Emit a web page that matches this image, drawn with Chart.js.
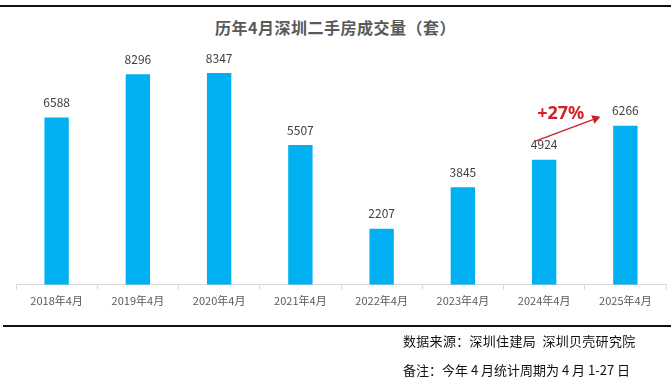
<!DOCTYPE html>
<html>
<head>
<meta charset="utf-8">
<script src="https://cdn.jsdelivr.net/npm/chart.js@4/dist/chart.umd.min.js"></script>
<style>
html,body{margin:0;padding:0;background:#fff;}
#wrap{position:relative;width:671px;height:380px;overflow:hidden;font-family:"Noto Sans CJK SC","Noto Sans",sans-serif;}
canvas{position:absolute;left:0;top:0;}
.line{position:absolute;left:0;width:671px;height:2px;background:#111;}
.title{position:absolute;left:0;width:671px;top:17px;text-align:center;font-size:16px;letter-spacing:0.5px;font-weight:bold;color:#595959;line-height:20px;}
.note{position:absolute;left:403px;font-size:13px;color:#111;line-height:18px;white-space:pre;}
</style>
</head>
<body>
<div id="wrap">
  <div class="line" style="top:5px;"></div>
  <div class="title" id="title"></div>
  <canvas id="c" width="671" height="380"></canvas>
  <div class="line" style="top:325px;left:3px;"></div>
  <div class="note" style="top:332px;letter-spacing:0.3px;">数据来源：深圳住建局  深圳贝壳研究院</div>
  <div class="note" style="top:361px;">备注：今年 4 月统计周期为 4 月 1-27 日</div>
</div>
<script>
const titleText = "历年4月深圳二手房成交量（套）";
const categories = ["2018年4月","2019年4月","2020年4月","2021年4月","2022年4月","2023年4月","2024年4月","2025年4月"];
const volumes = [6588, 8296, 8347, 5507, 2207, 3845, 4924, 6266];
const growthLabel = "+27%";

document.getElementById('title').textContent = titleText;

const valueLabels = {
  id: 'valueLabels',
  afterDatasetsDraw(chart) {
    const ctx = chart.ctx;
    const meta = chart.getDatasetMeta(0);
    ctx.save();
    ctx.font = '12px "Noto Sans CJK SC", "Noto Sans", sans-serif';
    ctx.fillStyle = '#404040';
    ctx.textAlign = 'center';
    ctx.textBaseline = 'middle';
    meta.data.forEach((bar, i) => {
      ctx.fillText(String(volumes[i]), bar.x, bar.y - 15);
    });
    // growth arrow from 2024 label to 2025 label
    const a = meta.data[6], b = meta.data[7];
    ctx.strokeStyle = '#c8202a';
    ctx.fillStyle = '#c8202a';
    ctx.lineWidth = 1.2;
    const ex = b.x - 25, ey = b.y - 9;
    const sx = a.x - 8, sy = a.y - 19;
    const ang = Math.atan2(ey - sy, ex - sx);
    const hl = 8, hw = 4.5;
    const bx = ex - hl * Math.cos(ang), by = ey - hl * Math.sin(ang);
    ctx.beginPath();
    ctx.moveTo(sx, sy);
    ctx.lineTo(bx, by);
    ctx.stroke();
    ctx.beginPath();
    ctx.moveTo(ex, ey);
    ctx.lineTo(bx + hw * Math.sin(ang), by - hw * Math.cos(ang));
    ctx.lineTo(bx - hw * Math.sin(ang), by + hw * Math.cos(ang));
    ctx.closePath();
    ctx.fill();
    ctx.font = 'bold 18px "Noto Sans", "Liberation Sans", sans-serif';
    ctx.fillStyle = '#d42027';
    ctx.fillText(growthLabel, (a.x + b.x) / 2 - 24, b.y - 12);
    ctx.restore();
  }
};

new Chart(document.getElementById('c'), {
  type: 'bar',
  data: {
    labels: categories,
    datasets: [{
      data: volumes,
      backgroundColor: '#00B0F0',
      borderWidth: 0,
      categoryPercentage: 1,
      barPercentage: 0.3
    }]
  },
  options: {
    responsive: false,
    animation: false,
    layout: { padding: { left: 16, right: 5, top: 31, bottom: 69 } },
    plugins: { legend: { display: false }, title: { display: false }, tooltip: { enabled: false } },
    scales: {
      y: { display: false, min: 0, max: 10000 },
      x: {
        grid: { display: true, drawOnChartArea: false, color: '#d9d9d9', tickLength: 5, offset: true },
        border: { display: true, color: '#d9d9d9' },
        ticks: { color: '#595959', font: { size: 11, family: '"Noto Sans CJK SC", "Noto Sans", sans-serif' }, padding: 4, maxRotation: 0 }
      }
    }
  },
  plugins: [valueLabels]
});
</script>
</body>
</html>
